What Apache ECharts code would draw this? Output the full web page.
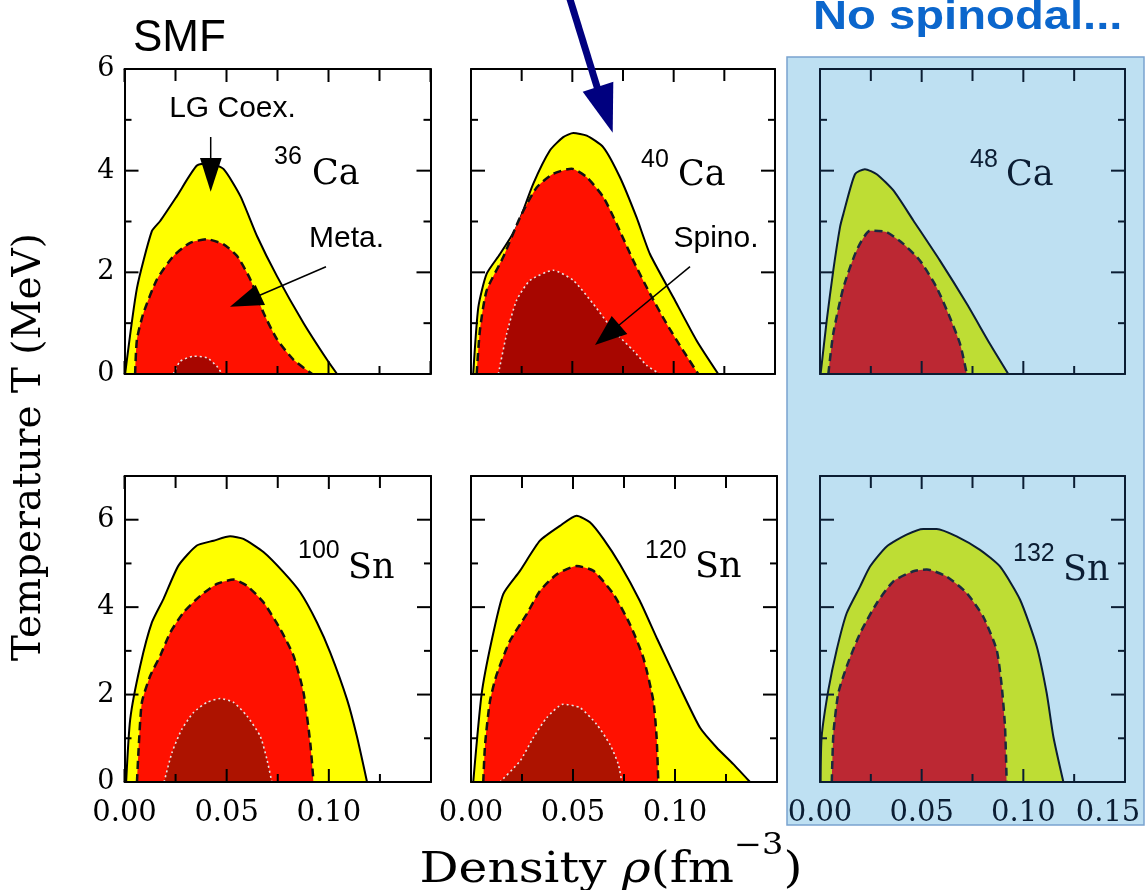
<!DOCTYPE html>
<html><head><meta charset="utf-8">
<script src="https://cdn.jsdelivr.net/npm/echarts@6/dist/echarts.min.js"></script>
<style>html,body{margin:0;padding:0;background:#fff}#c{width:1145px;height:890px}</style>
</head><body><div id="c"></div>
<script>
// ---- data: [density (fm^-3), temperature (MeV)] ----
const ca36Coex  = [[0.0003,0],[0.0061,1.69],[0.0134,2.81],[0.0175,3.01],[0.0257,3.50],[0.0355,4.10],[0.042,4.14],[0.0486,4.03],[0.0568,3.50],[0.065,2.71],[0.0748,1.92],[0.0878,1.00],[0.0993,0.28],[0.1042,0]];
const ca36Meta  = [[0.0052,0],[0.0061,0.68],[0.0093,1.20],[0.0159,1.86],[0.024,2.32],[0.0322,2.58],[0.0404,2.65],[0.0486,2.55],[0.0552,2.32],[0.0617,1.86],[0.0682,1.20],[0.0748,0.68],[0.0829,0.28],[0.092,0]];
const ca36Spino = [[0.024,0],[0.0273,0.25],[0.0339,0.35],[0.0404,0.32],[0.0453,0.15],[0.0478,0]];

const ca40Coex  = [[0.0011,0],[0.0036,1.31],[0.0077,1.97],[0.0143,2.36],[0.0225,2.89],[0.0307,3.74],[0.039,4.40],[0.0455,4.66],[0.0505,4.74],[0.0571,4.69],[0.0653,4.46],[0.0735,3.87],[0.0817,3.08],[0.0883,2.36],[0.0998,1.51],[0.1113,0.66],[0.122,0]];
const ca40Meta  = [[0.0028,0],[0.0044,0.86],[0.0077,1.64],[0.0159,2.30],[0.0242,3.08],[0.0324,3.67],[0.0406,3.94],[0.0497,4.04],[0.0571,3.87],[0.0653,3.48],[0.0719,2.95],[0.0801,2.23],[0.0883,1.58],[0.0965,0.99],[0.1047,0.46],[0.1121,0]];
const ca40Spino = [[0.0135,0],[0.0176,0.79],[0.0225,1.45],[0.0291,1.84],[0.0406,2.04],[0.0505,1.84],[0.0603,1.38],[0.0702,0.86],[0.0801,0.46],[0.0867,0.17],[0.0932,0]];

const ca48Coex  = [[0.0003,0],[0.0033,1.05],[0.0065,2.03],[0.0098,2.88],[0.0115,3.15],[0.0172,3.93],[0.0221,4.03],[0.0279,3.93],[0.0361,3.61],[0.0459,3.02],[0.059,2.23],[0.0722,1.38],[0.0836,0.59],[0.0926,0]];
const ca48Meta  = [[0.0041,0],[0.0065,0.79],[0.0115,1.70],[0.018,2.43],[0.0246,2.82],[0.0328,2.79],[0.041,2.56],[0.0492,2.23],[0.0574,1.70],[0.0639,1.11],[0.0689,0.59],[0.0722,0]];

const sn100Coex  = [[0.0008,0],[0.0028,1.44],[0.0077,2.66],[0.0134,3.65],[0.0191,4.19],[0.0264,4.95],[0.0354,5.41],[0.0436,5.52],[0.0517,5.62],[0.0582,5.56],[0.068,5.26],[0.0778,4.80],[0.086,4.34],[0.0942,3.65],[0.1007,2.96],[0.1089,1.89],[0.1137,1.05],[0.1187,0]];
const sn100Meta  = [[0.0061,0],[0.0069,0.75],[0.0085,1.82],[0.0126,2.43],[0.0175,2.89],[0.0224,3.42],[0.0289,3.88],[0.0371,4.26],[0.0452,4.53],[0.0534,4.63],[0.0599,4.49],[0.068,4.11],[0.0762,3.50],[0.0827,2.89],[0.0876,2.05],[0.0909,0.90],[0.0925,0]];
const sn100Spino = [[0.0194,0],[0.0232,0.67],[0.0281,1.21],[0.0338,1.59],[0.0403,1.82],[0.0468,1.91],[0.0534,1.82],[0.0599,1.51],[0.0664,1.05],[0.0697,0.52],[0.0721,0]];

const sn120Coex  = [[0.0011,0],[0.0052,2.01],[0.0101,3.23],[0.0158,4.30],[0.024,4.83],[0.0338,5.52],[0.0436,5.86],[0.0518,6.09],[0.0583,5.94],[0.0649,5.56],[0.073,4.98],[0.0828,4.14],[0.091,3.30],[0.1025,2.16],[0.1123,1.24],[0.1204,0.79],[0.1286,0.41],[0.1368,0]];
const sn120Meta  = [[0.006,0],[0.0069,0.86],[0.0093,1.85],[0.0126,2.46],[0.0191,3.23],[0.0273,3.84],[0.0338,4.37],[0.042,4.75],[0.0518,4.94],[0.06,4.83],[0.0698,4.30],[0.0779,3.61],[0.0845,2.84],[0.0894,1.85],[0.091,1.01],[0.0918,0]];
const sn120Spino = [[0.0142,0],[0.024,0.48],[0.0305,1.01],[0.0371,1.47],[0.0452,1.78],[0.0534,1.70],[0.0616,1.32],[0.0681,0.86],[0.0722,0.41],[0.0739,0]];

const sn132Coex  = [[0.0003,0],[0.0008,1.03],[0.0041,2.10],[0.0082,3.02],[0.0131,3.86],[0.0197,4.47],[0.0246,4.93],[0.0328,5.39],[0.0426,5.66],[0.0508,5.79],[0.0574,5.79],[0.0672,5.62],[0.0787,5.31],[0.0885,4.93],[0.0984,4.17],[0.1066,3.10],[0.1115,2.03],[0.1148,1.03],[0.1197,0]];
const sn132Meta  = [[0.0058,0],[0.0066,1.11],[0.009,2.03],[0.0131,2.64],[0.0197,3.40],[0.0279,4.09],[0.0361,4.59],[0.0459,4.82],[0.0525,4.86],[0.0623,4.70],[0.0722,4.32],[0.0803,3.78],[0.0869,3.02],[0.0894,2.18],[0.091,1.26],[0.0918,0]];

const xTickValues = [0, 0.05, 0.10, 0.15];
const xTickLabels = ['0.00','0.05','0.10','0.15'];
const xMinorValues = [0.025, 0.075, 0.125];
const yTickValues = [0,2,4,6];
const yMinorValues = [1,3,5];
const massNumbers = ['36','40','48','100','120','132'];
const elements = ['Ca','Ca','Ca','Sn','Sn','Sn'];

// ---- panels ----
const panels = [
  {coex:ca36Coex, meta:ca36Meta, spino:ca36Spino},
  {coex:ca40Coex, meta:ca40Meta, spino:ca40Spino},
  {coex:ca48Coex, meta:ca48Meta, spino:null},
  {coex:sn100Coex, meta:sn100Meta, spino:sn100Spino},
  {coex:sn120Coex, meta:sn120Meta, spino:sn120Spino},
  {coex:sn132Coex, meta:sn132Meta, spino:null}
];
const gridRects = [
  {left:124.5, top:69, width:306, height:305},
  {left:471, top:69, width:304, height:305},
  {left:820, top:69, width:305, height:305},
  {left:124.5, top:476, width:306.5, height:306},
  {left:471, top:476, width:306, height:306},
  {left:820, top:476, width:305, height:306}
];
const serif = 'DejaVu Serif';
const AZ = 20;
// tick kinds: 0 x-major, 1 x-minor, 2 y-major, 3 y-minor
const tickLen = [13, 8, 14, 7];
const tickTopLen = [13, 12, 14, 7];

const grids = [], xAxes = [], yAxes = [], series = [];
panels.forEach((p, g) => {
  const row = g < 3 ? 0 : 1, col = g % 3;
  const blue = col === 2;
  const lc = blue ? '#0b1d33' : '#000';
  const ls = () => ({color: lc, width: 2});
  grids.push(Object.assign({outerBoundsMode:'none', containLabel:false}, gridRects[g]));
  const ymax = row === 0 ? 6 : 7;
  const xBase = pos => ({
    gridIndex: g, type: 'value', min: 0, max: 0.15, interval: 0.05, z: AZ, position: pos,
    axisLine: {show: true, onZero: false, lineStyle: ls()},
    axisTick: {show: false}, axisLabel: {show: false}, splitLine: {show: false}
  });
  const xb = xBase('bottom');
  xb.axisLabel = {
    show: row === 1, margin: 17, fontFamily: serif, fontSize: 29, color: lc,
    customValues: blue ? xTickValues : xTickValues.slice(0, 3),
    formatter: v => {
      const t = xTickLabels[xTickValues.findIndex(u => Math.abs(u - v) < 1e-6)];
      return (blue && v > 0.149) ? '{m|' + t + '}' : t;
    },
    rich: {m: {padding: [0, 34, 0, 0], fontFamily: serif, fontSize: 29, color: lc}}
  };
  xAxes.push(xb);
  xAxes.push(xBase('top'));
  const yBase = pos => ({
    gridIndex: g, type: 'value', min: 0, max: ymax, interval: 1, z: AZ, position: pos,
    axisLine: {show: true, onZero: false, lineStyle: ls()},
    axisTick: {show: false}, axisLabel: {show: false}, splitLine: {show: false}
  });
  const yl = yBase('left');
  yl.axisLabel = {show: col === 0, customValues: yTickValues, margin: 10, fontFamily: serif, fontSize: 27, color: lc};
  yAxes.push(yl);
  yAxes.push(yBase('right'));

  const xi = 2 * g, yi = 2 * g;
  const fillCoex = blue ? '#bedd34' : '#ffff00';
  const fillMeta = blue ? '#bc2833' : '#ff1100';
  const fillSpino = row === 0 ? '#a70600' : '#ad1300';
  series.push({
    type: 'line', name: 'LG coexistence', xAxisIndex: xi, yAxisIndex: yi, data: p.coex,
    showSymbol: false, smooth: 0.2, z: 2,
    lineStyle: {color: lc, width: 2}, areaStyle: {color: fillCoex, opacity: 1}
  });
  series.push({
    type: 'line', name: 'Metastable', xAxisIndex: xi, yAxisIndex: yi, data: p.meta,
    showSymbol: false, smooth: 0.2, z: 3,
    lineStyle: {color: blue ? '#1a2a40' : '#111', width: 2.5, type: [8, 5]},
    areaStyle: {color: fillMeta, opacity: 1}
  });
  if (p.spino) {
    series.push({
      type: 'line', name: 'Spinodal', xAxisIndex: xi, yAxisIndex: yi, data: p.spino,
      showSymbol: false, smooth: 0.2, z: 4,
      lineStyle: {color: '#e6e6e6', width: 1.6, type: [2, 3]},
      areaStyle: {color: fillSpino, opacity: 1}
    });
  }
  // inward tick marks on all four sides, placed through the axes' own scales
  const tickData = [].concat(
    xTickValues.map(v => [v, 0]), xMinorValues.map(v => [v, 1]),
    yTickValues.map(v => [v, 2]), yMinorValues.map(v => [v, 3]));
  series.push({
    type: 'custom', name: 'ticks', xAxisIndex: xi, yAxisIndex: yi, z: 10, silent: true, clip: false,
    data: tickData,
    renderItem: (params, api) => {
      const v = api.value(0), k = api.value(1);
      const cs = params.coordSys;
      const st = {stroke: lc, lineWidth: 2};
      const L = tickLen[k], LT = tickTopLen[k];
      if (k < 2) {
        const px = api.coord([v, 0])[0];
        return {type: 'group', children: [
          {type: 'line', shape: {x1: px, y1: cs.y + cs.height, x2: px, y2: cs.y + cs.height - L}, style: st},
          {type: 'line', shape: {x1: px, y1: cs.y, x2: px, y2: cs.y + LT}, style: st}
        ]};
      }
      const py = api.coord([0, v])[1];
      return {type: 'group', children: [
        {type: 'line', shape: {x1: cs.x, y1: py, x2: cs.x + L, y2: py}, style: st},
        {type: 'line', shape: {x1: cs.x + cs.width, y1: py, x2: cs.x + cs.width - L, y2: py}, style: st}
      ]};
    }
  });
});

// ---- annotations ----
const isoPos = [
  {sx:274, sy:157, ex:312, ey:175},
  {sx:641, sy:160, ex:678, ey:176},
  {sx:970, sy:160, ex:1006, ey:176},
  {sx:298, sy:551, ex:348, ey:569},
  {sx:645, sy:551, ex:695, ey:568},
  {sx:1013, sy:554, ex:1063, ey:571}
];
const Z = 100;
const graphics = [
  {type:'rect', z:-10, shape:{x:787, y:57, width:357, height:768},
   style:{fill:'#bee0f2', stroke:'#7aa3cf', lineWidth:1.5}},
  {type:'text', z:Z, x:133, y:39, style:{text:'SMF', font:'44px "Liberation Sans"', fill:'#000', verticalAlign:'middle', align:'left'}},
  {type:'text', z:Z, x:813, y:18, scaleX:1.18, style:{text:'No spinodal...', font:'bold 40px "Liberation Sans"', fill:'#0b66cc', verticalAlign:'middle', align:'left'}},
  {type:'text', z:Z, x:232.5, y:109, style:{text:'LG Coex.', font:'30px "Liberation Sans"', fill:'#000', verticalAlign:'middle', align:'center'}},
  {type:'text', z:Z, x:346.5, y:239, style:{text:'Meta.', font:'30px "Liberation Sans"', fill:'#000', verticalAlign:'middle', align:'center'}},
  {type:'text', z:Z, x:716, y:239, style:{text:'Spino.', font:'30px "Liberation Sans"', fill:'#000', verticalAlign:'middle', align:'center'}},
  // arrows
  {type:'line', z:Z, shape:{x1:210.7, y1:137, x2:210.7, y2:160}, style:{stroke:'#000', lineWidth:1.5}},
  {type:'polygon', z:Z, shape:{points:[[200,158],[221.7,158],[210.7,191.7]]}, style:{fill:'#000'}},
  {type:'line', z:Z, shape:{x1:326, y1:266.7, x2:258, y2:296}, style:{stroke:'#000', lineWidth:1.5}},
  {type:'polygon', z:Z, shape:{points:[[230,306.7],[255.7,285],[265,305]]}, style:{fill:'#000'}},
  {type:'line', z:Z, shape:{x1:690, y1:266.7, x2:618, y2:326}, style:{stroke:'#000', lineWidth:1.5}},
  {type:'polygon', z:Z, shape:{points:[[595,345],[611.7,316],[627.3,334]]}, style:{fill:'#000'}},
  {type:'line', z:Z, shape:{x1:569, y1:-4, x2:598, y2:90}, style:{stroke:'#00007f', lineWidth:7}},
  {type:'polygon', z:Z, shape:{points:[[582.7,91.7],[613.3,81.7],[612.7,132.7]]}, style:{fill:'#00007f'}},
  // axis titles
  {type:'text', z:Z, x:30, y:447, rotation:Math.PI/2, style:{text:'Temperature T (MeV)', font:'39px "DejaVu Serif"', fill:'#000', verticalAlign:'middle', align:'center'}},
  {type:'text', z:Z, x:611, y:862, scaleX:1.16, style:{
    text:'{a|Density }{r|ρ}{a|(fm}{s|−3}{a|)}', align:'center', verticalAlign:'middle',
    rich:{
      a:{fontFamily:serif, fontSize:42, fill:'#000', lineHeight:60, verticalAlign:'bottom'},
      r:{fontFamily:serif, fontSize:42, fontStyle:'italic', fill:'#000', lineHeight:60, verticalAlign:'bottom'},
      s:{fontFamily:serif, fontSize:29, fill:'#000', lineHeight:26, verticalAlign:'top'}
    }}}
];
isoPos.forEach((q, i) => {
  const c = i % 3 === 2 ? '#0b1d33' : '#000';
  graphics.push({type:'text', x:q.sx, y:q.sy, z:Z, style:{text:massNumbers[i], font:'25px "Liberation Sans"', fill:c, verticalAlign:'middle', align:'left'}});
  graphics.push({type:'text', x:q.ex, y:q.ey, z:Z, style:{text:elements[i], font:'35px "DejaVu Serif"', fill:c, verticalAlign:'middle', align:'left'}});
});

const chart = echarts.init(document.getElementById('c'), null, {renderer:'canvas'});
chart.setOption({
  animation: false,
  backgroundColor: '#fff',
  grid: grids, xAxis: xAxes, yAxis: yAxes, series: series,
  graphic: {elements: graphics}
});
</script></body></html>
